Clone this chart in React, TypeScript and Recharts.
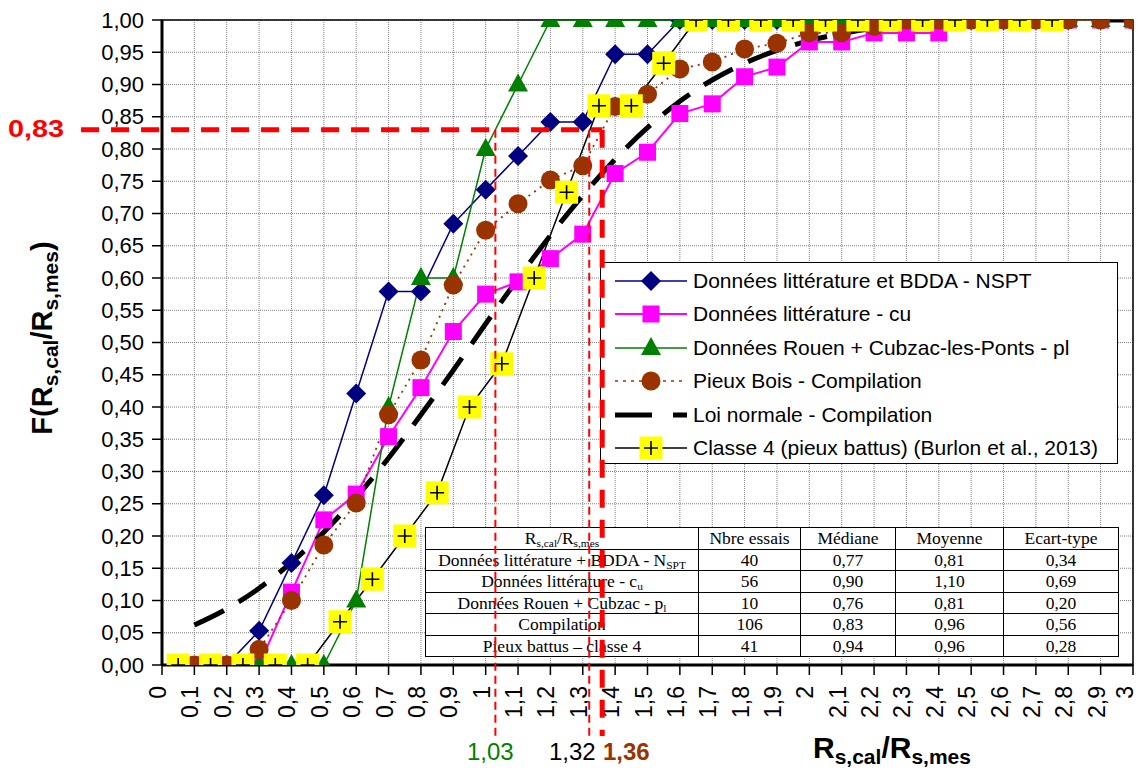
import React from 'react';
import { LineChart, Line, XAxis, YAxis, CartesianGrid, ReferenceLine, ReferenceArea } from 'recharts';

// axis ticks
const xTicks = [0, 0.1, 0.2, 0.3, 0.4, 0.5, 0.6, 0.7, 0.8, 0.9, 1, 1.1, 1.2, 1.3, 1.4, 1.5, 1.6, 1.7, 1.8, 1.9, 2, 2.1, 2.2, 2.3, 2.4, 2.5, 2.6, 2.7, 2.8, 2.9, 3];
const yTicks = [0, 0.05, 0.1, 0.15, 0.2, 0.25, 0.3, 0.35, 0.4, 0.45, 0.5, 0.55, 0.6, 0.65, 0.7, 0.75, 0.8, 0.85, 0.9, 0.95, 1];

// Données littérature et BDDA - NSPT
const nsptX = [0.2, 0.3, 0.4, 0.5, 0.6, 0.7, 0.8, 0.9, 1, 1.1, 1.2, 1.3, 1.4, 1.5, 1.6, 1.7, 1.8, 1.9, 2, 2.1, 2.2, 2.3, 2.4, 2.5, 2.6, 2.7, 2.8, 2.9, 3];
const nsptY = [0, 0.053, 0.158, 0.263, 0.421, 0.579, 0.579, 0.684, 0.737, 0.789, 0.842, 0.842, 0.947, 0.947, 1, 1, 1, 1, 1, 1, 1, 1, 1, 1, 1, 1, 1, 1, 1];

// Données littérature - cu
const cuX = [0.1, 0.2, 0.3, 0.4, 0.5, 0.6, 0.7, 0.8, 0.9, 1, 1.1, 1.2, 1.3, 1.4, 1.5, 1.6, 1.7, 1.8, 1.9, 2, 2.1, 2.2, 2.3, 2.4, 2.5, 2.6, 2.7, 2.8, 2.9, 3];
const cuY = [0, 0, 0, 0.113, 0.225, 0.265, 0.354, 0.43, 0.517, 0.575, 0.594, 0.63, 0.668, 0.762, 0.795, 0.855, 0.87, 0.912, 0.927, 0.966, 0.966, 0.98, 0.98, 0.98, 1, 1, 1, 1, 1, 1];

// Données Rouen + Cubzac-les-Ponts - pl
const plX = [0.3, 0.4, 0.5, 0.6, 0.7, 0.8, 0.9, 1, 1.1, 1.2, 1.3, 1.4, 1.5, 1.6, 1.7, 1.8, 1.9, 2, 2.1, 2.2, 2.3, 2.4, 2.5, 2.6, 2.7, 2.8, 2.9, 3];
const plY = [0, 0, 0, 0.1, 0.4, 0.6, 0.6, 0.8, 0.9, 1, 1, 1, 1, 1, 1, 1, 1, 1, 1, 1, 1, 1, 1, 1, 1, 1, 1, 1];

// Pieux Bois - Compilation
const boisX = [0.1, 0.2, 0.3, 0.4, 0.5, 0.6, 0.7, 0.8, 0.9, 1, 1.1, 1.2, 1.3, 1.4, 1.5, 1.6, 1.7, 1.8, 1.9, 2, 2.1, 2.2, 2.3, 2.4, 2.5, 2.6, 2.7, 2.8, 2.9, 3];
const boisY = [0, 0, 0.024, 0.1, 0.186, 0.251, 0.388, 0.473, 0.589, 0.674, 0.715, 0.752, 0.774, 0.866, 0.885, 0.924, 0.935, 0.955, 0.964, 0.98, 0.98, 0.99, 1, 1, 1, 1, 1, 1, 1, 1];

// Loi normale - Compilation
const normX = [0.1, 0.2, 0.3, 0.4, 0.5, 0.6, 0.7, 0.8, 0.9, 1, 1.1, 1.2, 1.3, 1.4, 1.5, 1.6, 1.7, 1.8, 1.9, 2, 2.1, 2.2, 2.3, 2.4, 2.5, 2.6, 2.7, 2.8, 2.9, 3];
const normY = [0.062, 0.087, 0.119, 0.159, 0.206, 0.26, 0.321, 0.388, 0.457, 0.529, 0.599, 0.666, 0.728, 0.784, 0.833, 0.874, 0.907, 0.933, 0.953, 0.968, 0.979, 0.987, 0.992, 0.995, 0.997, 0.998, 0.999, 1, 1, 1];

// Classe 4 (pieux battus) (Burlon et al., 2013)
const c4X = [0.05, 0.15, 0.25, 0.35, 0.45, 0.55, 0.65, 0.75, 0.85, 0.95, 1.05, 1.15, 1.25, 1.35, 1.45, 1.55, 1.65, 1.75, 1.85, 1.95, 2.05, 2.15, 2.25, 2.35, 2.45, 2.55, 2.65, 2.75];
const c4Y = [0, 0, 0, 0, 0, 0.067, 0.133, 0.2, 0.267, 0.4, 0.467, 0.6, 0.733, 0.867, 0.867, 0.933, 1, 1, 1, 1, 1, 1, 1, 1, 1, 1, 1, 1];

// table
const tableHead = ['Nbre essais', 'Médiane', 'Moyenne', 'Ecart-type'];
const tableNbre = ['40', '56', '10', '106', '41'];
const tableMediane = ['0,77', '0,90', '0,76', '0,83', '0,94'];
const tableMoyenne = ['0,81', '1,10', '0,81', '0,96', '0,96'];
const tableEcart = ['0,34', '0,69', '0,20', '0,56', '0,28'];

// annotations
const seuil = 0.83;
const xLow = 1.03;
const xMid = 1.32;
const xHigh = 1.36;

const toPts = (xs: number[], ys: number[]) => xs.map((x, i) => ({ x, y: ys[i] }));
const nsptData = toPts(nsptX, nsptY);
const cuData = toPts(cuX, cuY);
const plData = toPts(plX, plY);
const boisData = toPts(boisX, boisY);
const normData = toPts(normX, normY);
const c4Data = toPts(c4X, c4Y);

const SANS = "Arial, 'Liberation Sans', sans-serif";
const SERIF = "'Times New Roman', 'Liberation Serif', serif";

const W = 1140;
const H = 774;
const MARGIN = { top: 20, right: 7, bottom: 49, left: 102 };

const fmtX = (v: number) => String(Math.round(v * 10) / 10).replace('.', ',');
const fmtY = (v: number) => v.toFixed(2).replace('.', ',');

// marker shapes
const diamond = (cx: number, cy: number, key?: any) => (
  <path key={key} d={`M${cx},${cy - 10}L${cx + 10},${cy}L${cx},${cy + 10}L${cx - 10},${cy}Z`} fill="#000080" />
);
const square = (cx: number, cy: number, key?: any) => (
  <rect key={key} x={cx - 8.5} y={cy - 8.5} width={17} height={17} fill="#FF00FF" />
);
const triangle = (cx: number, cy: number, key?: any) => (
  <path key={key} d={`M${cx},${cy - 11}L${cx + 10},${cy + 7}L${cx - 10},${cy + 7}Z`} fill="#008000" />
);
const circle = (cx: number, cy: number, key?: any) => (
  <circle key={key} cx={cx} cy={cy} r={9.5} fill="#993300" />
);
const plus = (cx: number, cy: number, key?: any) => (
  <g key={key}>
    <rect x={cx - 11.5} y={cy - 11.5} width={23} height={23} fill="#FFFF00" />
    <path d={`M${cx - 7},${cy}H${cx + 7}M${cx},${cy - 7}V${cy + 7}`} stroke="#000" strokeWidth={1.6} />
  </g>
);

const dotOf = (shape: (cx: number, cy: number, key?: any) => React.ReactElement) => (p: any) =>
  shape(p.cx, p.cy, `d${p.index}`);

const XTick = (props: any) => {
  const { x, y, payload } = props;
  // keep the last label inside the picture
  const tx = Math.min(x - 4, W - 15);
  return (
    <text
      transform={`translate(${tx},${y + 9}) rotate(-90)`}
      textAnchor="end"
      dominantBaseline="central"
      fontSize={23}
      fontFamily={SANS}
      fill="#000"
    >
      {fmtX(payload.value)}
    </text>
  );
};

const YTick = (props: any) => {
  const { x, y, payload } = props;
  return (
    <text x={x} y={y} textAnchor="end" dominantBaseline="central" fontSize={22} fontFamily={SANS} fill="#000">
      {fmtY(payload.value)}
    </text>
  );
};

const legendItems = [
  { label: 'Données littérature et BDDA - NSPT', color: '#000080', width: 1.5, dash: undefined, shape: diamond },
  { label: 'Données littérature - cu', color: '#FF00FF', width: 2, dash: undefined, shape: square },
  { label: 'Données Rouen + Cubzac-les-Ponts - pl', color: '#008000', width: 1.5, dash: undefined, shape: triangle },
  { label: 'Pieux Bois - Compilation', color: '#993300', width: 1.5, dash: '3 5', shape: circle },
  { label: 'Loi normale - Compilation', color: '#000', width: 5, dash: '37 21', shape: null },
  { label: 'Classe 4 (pieux battus) (Burlon et al., 2013)', color: '#000', width: 1.5, dash: undefined, shape: plus },
];

const subStyle: React.CSSProperties = { fontSize: '0.65em', verticalAlign: '-0.25em', lineHeight: 0 };

const tableLabels: React.ReactNode[] = [
  <>Données littérature + BDDA - N<sub style={subStyle}>SPT</sub></>,
  <>Données littérature - c<sub style={subStyle}>u</sub></>,
  <>Données Rouen + Cubzac - p<sub style={subStyle}>l</sub></>,
  <>Compilation</>,
  <>Pieux battus – classe 4</>,
];

const titleSub: React.CSSProperties = { fontSize: 21, verticalAlign: '-0.3em', lineHeight: 0 };

export default function App() {
  const cell: React.CSSProperties = {
    border: '1px solid #000',
    padding: 0,
    textAlign: 'center',
    height: 20.5,
    lineHeight: '20px',
    whiteSpace: 'nowrap',
    overflow: 'hidden',
  };
  return (
    <div style={{ position: 'absolute', left: 0, top: 0, width: W, height: H, overflow: 'hidden', background: '#fff' }}>
      <div style={{ position: 'absolute', left: 0, top: 0 }}>
        <LineChart width={W} height={H} margin={MARGIN}>
          <CartesianGrid stroke="#808080" strokeDasharray="1 1" strokeWidth={1} />
          <XAxis
            dataKey="x"
            type="number"
            domain={[0, 3]}
            ticks={xTicks}
            interval={0}
            allowDataOverflow
            height={60}
            tickSize={10}
            tick={<XTick />}
            axisLine={{ stroke: '#000', strokeWidth: 3 }}
            tickLine={{ stroke: '#000', strokeWidth: 1.5 }}
          />
          <YAxis
            type="number"
            domain={[0, 1]}
            ticks={yTicks}
            interval={0}
            allowDataOverflow
            width={60}
            tickSize={10}
            tickMargin={8}
            tick={<YTick />}
            axisLine={{ stroke: '#000', strokeWidth: 3 }}
            tickLine={{ stroke: '#000', strokeWidth: 1.5 }}
          />
          <ReferenceArea x1={0} x2={3} y1={0} y2={1} fill="none" stroke="#000" strokeWidth={1.5} ifOverflow="visible" />
          <Line data={nsptData} dataKey="y" stroke="#000080" strokeWidth={1.5} dot={dotOf(diamond)} activeDot={false} isAnimationActive={false} />
          <Line data={cuData} dataKey="y" stroke="#FF00FF" strokeWidth={2} dot={dotOf(square)} activeDot={false} isAnimationActive={false} />
          <Line data={plData} dataKey="y" stroke="#008000" strokeWidth={1.5} dot={dotOf(triangle)} activeDot={false} isAnimationActive={false} />
          <Line data={boisData} dataKey="y" stroke="#993300" strokeWidth={1.8} strokeDasharray="2 5" dot={dotOf(circle)} activeDot={false} isAnimationActive={false} />
          <Line data={normData} dataKey="y" type="monotone" stroke="#000" strokeWidth={5} strokeDasharray="33 17" dot={false} activeDot={false} isAnimationActive={false} />
          <Line data={c4Data} dataKey="y" stroke="#000" strokeWidth={1.5} dot={dotOf(plus)} activeDot={false} isAnimationActive={false} />
        </LineChart>
      </div>

      {/* legend */}
      <div
        style={{
          position: 'absolute',
          left: 600,
          top: 262,
          width: 518,
          height: 202,
          border: '1.5px solid #000',
          background: '#fff',
          fontFamily: SANS,
          fontSize: 21,
          boxSizing: 'border-box',
          paddingTop: 1,
        }}
      >
        {legendItems.map((it, i) => (
          <div key={i} style={{ height: 33.5, display: 'flex', alignItems: 'center' }}>
            <svg width={92} height={30} style={{ flex: 'none' }}>
              <line x1={14} x2={86} y1={15} y2={15} stroke={it.color} strokeWidth={it.width} strokeDasharray={it.dash} />
              {it.shape ? it.shape(50, 15) : null}
            </svg>
            <span style={{ whiteSpace: 'nowrap' }}>{it.label}</span>
          </div>
        ))}
      </div>

      {/* table */}
      <table
        style={{
          position: 'absolute',
          left: 425,
          top: 527,
          width: 693,
          borderCollapse: 'collapse',
          background: '#fff',
          fontFamily: SERIF,
          fontSize: 17.5,
          tableLayout: 'fixed',
        }}
      >
        <colgroup>
          <col style={{ width: 273 }} />
          <col style={{ width: 102 }} />
          <col style={{ width: 95 }} />
          <col style={{ width: 108 }} />
          <col style={{ width: 115 }} />
        </colgroup>
        <tbody>
          <tr>
            <td style={cell}>
              R<sub style={subStyle}>s,cal</sub>/R<sub style={subStyle}>s,mes</sub>
            </td>
            {tableHead.map((h) => (
              <td key={h} style={cell}>{h}</td>
            ))}
          </tr>
          {tableLabels.map((lab, i) => (
            <tr key={i}>
              <td style={cell}>{lab}</td>
              <td style={cell}>{tableNbre[i]}</td>
              <td style={cell}>{tableMediane[i]}</td>
              <td style={cell}>{tableMoyenne[i]}</td>
              <td style={cell}>{tableEcart[i]}</td>
            </tr>
          ))}
        </tbody>
      </table>

      {/* annotation overlay */}
      <div style={{ position: 'absolute', left: 0, top: 0, pointerEvents: 'none' }}>
        <LineChart width={W} height={H} margin={{ top: 20, right: 7, bottom: 109, left: 162 }}>
          <XAxis dataKey="x" type="number" domain={[0, 3]} hide allowDataOverflow />
          <YAxis type="number" domain={[0, 1]} hide allowDataOverflow />
          <ReferenceLine
            segment={[{ x: -0.25, y: seuil }, { x: xHigh, y: seuil }]}
            stroke="#FF0000"
            strokeWidth={5}
            strokeDasharray="18 12"
            ifOverflow="visible"
          />
          <ReferenceLine
            segment={[{ x: xHigh, y: seuil }, { x: xHigh, y: -0.11 }]}
            stroke="#FF0000"
            strokeWidth={5}
            strokeDasharray="18 12"
            ifOverflow="visible"
          />
          <ReferenceLine
            segment={[{ x: xLow, y: seuil }, { x: xLow, y: -0.11 }]}
            stroke="#FF0000"
            strokeWidth={2}
            strokeDasharray="8 5"
            ifOverflow="visible"
          />
          <ReferenceLine
            segment={[{ x: xMid, y: seuil }, { x: xMid, y: -0.11 }]}
            stroke="#FF0000"
            strokeWidth={2}
            strokeDasharray="8 5"
            ifOverflow="visible"
          />
        </LineChart>
      </div>

      {/* text annotations */}
      <div
        style={{
          position: 'absolute',
          left: 8,
          top: 115,
          color: '#FF0000',
          fontFamily: SANS,
          fontWeight: 'bold',
          fontSize: 24,
          transform: 'scaleX(1.2)',
          transformOrigin: 'left center',
        }}
      >
        0,83
      </div>
      <div style={{ position: 'absolute', left: 467, top: 738, color: '#008000', fontFamily: SANS, fontSize: 24 }}>1,03</div>
      <div style={{ position: 'absolute', left: 549, top: 738, color: '#000', fontFamily: SANS, fontSize: 24 }}>1,32</div>
      <div style={{ position: 'absolute', left: 603, top: 738, color: '#993300', fontFamily: SANS, fontWeight: 'bold', fontSize: 24 }}>1,36</div>
      <div style={{ position: 'absolute', left: 813, top: 730, fontFamily: SANS, fontWeight: 'bold', fontSize: 30, whiteSpace: 'nowrap', lineHeight: '36px' }}>
        R<sub style={titleSub}>s,cal</sub>/R<sub style={titleSub}>s,mes</sub>
      </div>
      <div
        style={{
          position: 'absolute',
          left: 42,
          top: 338,
          transform: 'translate(-50%, -50%) rotate(-90deg)',
          fontFamily: SANS,
          fontWeight: 'bold',
          fontSize: 29,
          whiteSpace: 'nowrap',
          lineHeight: '36px',
        }}
      >
        F(R<sub style={titleSub}>s,cal</sub>/R<sub style={titleSub}>s,mes</sub>)
      </div>
    </div>
  );
}
